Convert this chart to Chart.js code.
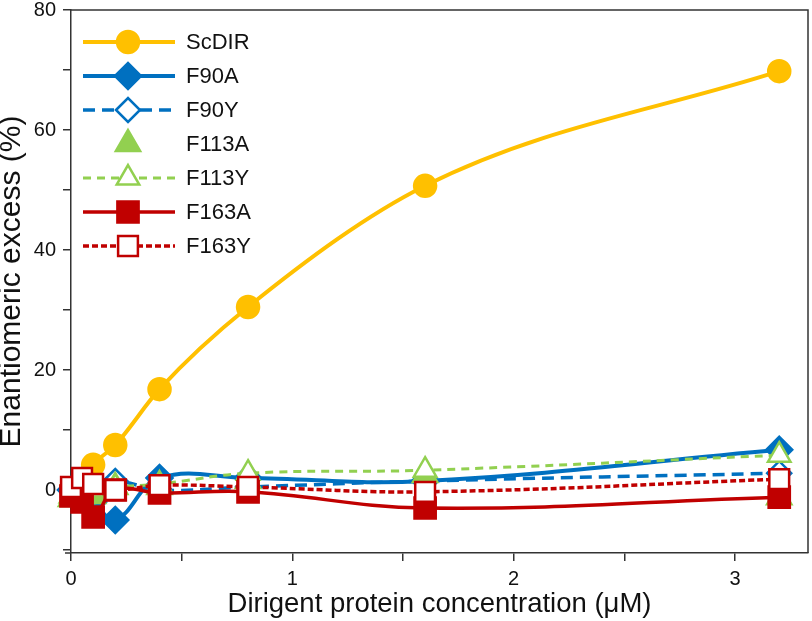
<!DOCTYPE html>
<html>
<head>
<meta charset="utf-8">
<script src="https://cdn.jsdelivr.net/npm/chart.js@4.4.1/dist/chart.umd.min.js"></script>
<style>
html, body { margin: 0; padding: 0; background: #fff; }
#wrap { width: 812px; height: 621px; }
</style>
</head>
<body>
<div id="wrap"><canvas id="chart" width="812" height="621"></canvas></div>
<script>
// dirigent protein concentration, uM
var concentrations = [0, 0.05, 0.1, 0.2, 0.4, 0.8, 1.6, 3.2];

// enantiomeric excess, %
var scDIR = [0.2, 1.5, 4.2, 7.5, 16.8, 30.5, 50.7, 69.8];
var f90A  = [0, -1, -2, -5, 2, 2, 1.5, 6.7];
var f90Y  = [0, 0.5, 0, 1.5, 0, 0.5, 1.5, 2.8];
var f113A = [-1.5, -1, -1, 0.5, 0.5, 1.5, 2.5, -1.2];
var f113Y = [-1, -0.5, 0, 0.5, 1, 2.8, 3.3, 5.8];
var f163A = [-1, -2, -4.5, 0, -0.5, -0.3, -3, -1.2];
var f163Y = [0.5, 2, 1, 0, 0.8, 0.5, -0.3, 1.8];

var xTickLabels = [0, 1, 2, 3];
var yTickLabels = [0, 20, 40, 60, 80];

var YELLOW = '#FFC000', BLUE = '#0070C0', GREEN = '#92D050', RED = '#C00000';

function toPoints(values) {
    return concentrations.map(function (c, i) { return { x: c, y: values[i] }; });
}

function series(label, values, color, opts) {
    var ds = {
        label: label,
        data: toPoints(values),
        borderColor: color,
        backgroundColor: color,
        pointBackgroundColor: color,
        pointBorderColor: color,
        borderWidth: 3.5,
        pointBorderWidth: 2.5,
        tension: 0.4,
        clip: false
    };
    for (var k in opts) ds[k] = opts[k];
    return ds;
}

var datasets = [
    series('ScDIR', scDIR, YELLOW, { pointStyle: 'circle', pointRadius: 11, borderWidth: 4,
        cubicInterpolationMode: 'monotone', order: 7 }),
    series('F90A', f90A, BLUE, { pointStyle: 'rectRot', pointRadius: 13, borderWidth: 4, order: 6 }),
    series('F90Y', f90Y, BLUE, { pointStyle: 'rectRot', pointRadius: 12, pointBackgroundColor: '#fff',
        borderDash: [12, 7], order: 5 }),
    series('F113A', f113A, GREEN, { pointStyle: 'triangle', pointRadius: 14, showLine: false, order: 4 }),
    series('F113Y', f113Y, GREEN, { pointStyle: 'triangle', pointRadius: 13, pointBackgroundColor: '#fff',
        borderWidth: 3, borderDash: [8, 6], order: 3 }),
    series('F163A', f163A, RED, { pointStyle: 'rect', pointRadius: 15, borderWidth: 3.5, order: 2 }),
    series('F163Y', f163Y, RED, { pointStyle: 'rect', pointRadius: 14, pointBackgroundColor: '#fff',
        borderDash: [6, 3], order: 1 })
];

// legend drawn by hand so line samples and markers look like the figure
var legendPlugin = {
    id: 'figLegend',
    afterDraw: function (chart) {
        var ctx = chart.ctx;
        chart.data.datasets.forEach(function (ds, i) {
            var y = 42 + i * 34;
            ctx.save();
            if (ds.showLine !== false) {
                ctx.strokeStyle = ds.borderColor;
                ctx.lineWidth = ds.borderWidth;
                ctx.setLineDash(ds.borderDash || []);
                ctx.beginPath();
                ctx.moveTo(83, y);
                ctx.lineTo(175, y);
                ctx.stroke();
            }
            ctx.setLineDash([]);
            ctx.fillStyle = ds.pointBackgroundColor;
            ctx.strokeStyle = ds.pointBorderColor;
            ctx.lineWidth = ds.pointBorderWidth;
            Chart.helpers.drawPoint(ctx, {
                pointStyle: ds.pointStyle,
                radius: ds.pointRadius,
                rotation: 0,
                borderWidth: ds.pointBorderWidth
            }, 128, y);
            ctx.fillStyle = '#111';
            ctx.font = '22px "Liberation Sans", Arial, sans-serif';
            ctx.textBaseline = 'middle';
            ctx.fillText(ds.label, 186, y + 1);
            ctx.restore();
        });
    }
};

// top and right frame lines
var framePlugin = {
    id: 'frame',
    beforeDatasetsDraw: function (chart) {
        var a = chart.chartArea, ctx = chart.ctx;
        ctx.save();
        ctx.strokeStyle = '#333';
        ctx.lineWidth = 1.5;
        ctx.beginPath();
        ctx.moveTo(a.left, a.top);
        ctx.lineTo(a.right, a.top);
        ctx.lineTo(a.right, a.bottom);
        ctx.moveTo(a.left - 6, a.bottom);
        ctx.lineTo(a.left, a.bottom);
        ctx.stroke();
        ctx.restore();
    }
};

function noPadding(scale) {
    scale.paddingTop = 0;
    scale.paddingBottom = 0;
    scale.paddingLeft = 0;
    scale.paddingRight = 0;
}

var FONT = '"Liberation Sans", Arial, sans-serif';

new Chart(document.getElementById('chart'), {
    type: 'line',
    data: { datasets: datasets },
    options: {
        responsive: false,
        animation: false,
        devicePixelRatio: 1,
        layout: { autoPadding: false, padding: { top: 10, right: 4, left: 0, bottom: 0 } },
        plugins: { legend: { display: false }, tooltip: { enabled: false } },
        scales: {
            x: {
                type: 'linear',
                min: 0,
                max: 3.33,
                border: { color: '#333', width: 1.5 },
                grid: { drawOnChartArea: false, drawTicks: true, tickLength: 8, color: '#333', lineWidth: 1.5 },
                ticks: {
                    stepSize: 0.5,
                    includeBounds: false,
                    autoSkip: false,
                    maxRotation: 0,
                    padding: 6,
                    color: '#111',
                    font: { family: FONT, size: 20 },
                    callback: function (v) { return xTickLabels.indexOf(v) >= 0 ? String(v) : ''; }
                },
                title: {
                    display: true,
                    text: 'Dirigent protein concentration (\u03bcM)',
                    color: '#111',
                    font: { family: FONT, size: 27.5 },
                    padding: { top: 0, bottom: 0 }
                },
                afterFit: function (scale) { scale.height = 68; noPadding(scale); }
            },
            y: {
                type: 'linear',
                min: -10.5,
                max: 80,
                border: { color: '#333', width: 1.5 },
                grid: { drawOnChartArea: false, drawTicks: true, tickLength: 8, color: '#333', lineWidth: 1.5 },
                ticks: {
                    stepSize: 10,
                    includeBounds: false,
                    autoSkip: false,
                    padding: 7,
                    color: '#111',
                    font: { family: FONT, size: 20 },
                    callback: function (v) { return yTickLabels.indexOf(v) >= 0 ? String(v) : ''; }
                },
                title: {
                    display: true,
                    text: 'Enantiomeric excess (%)',
                    color: '#111',
                    font: { family: FONT, size: 30, lineHeight: 0.8 },
                    padding: { top: 0, bottom: 0 }
                },
                afterFit: function (scale) { scale.width = 71; noPadding(scale); }
            }
        }
    },
    plugins: [framePlugin, legendPlugin]
});
</script>
</body>
</html>
